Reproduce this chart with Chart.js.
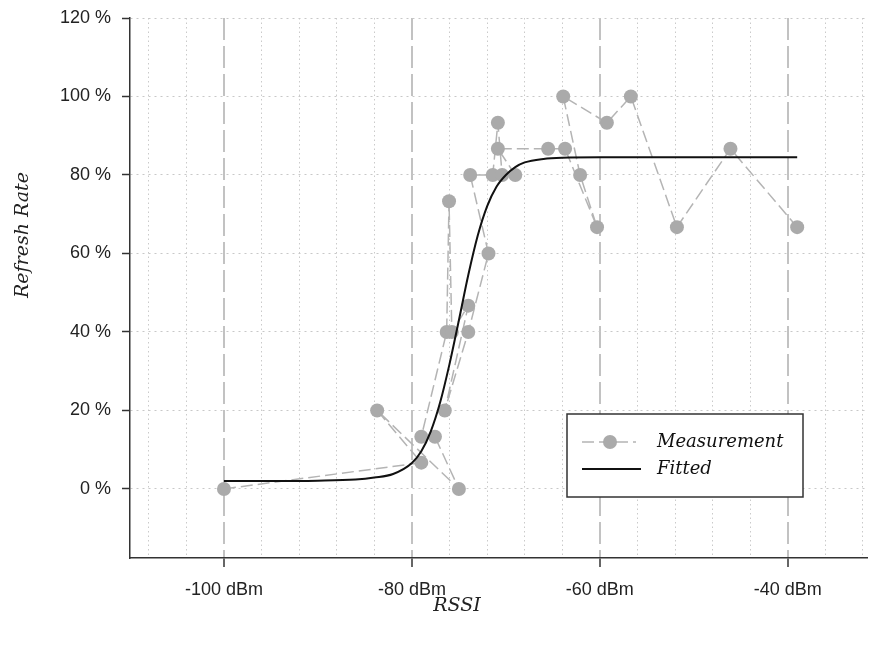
<!DOCTYPE html>
<html>
<head>
<meta charset="utf-8">
<script src="https://cdn.jsdelivr.net/npm/chart.js@4.4.0/dist/chart.umd.min.js"></script>
<style>
  html, body { margin: 0; padding: 0; background: #fff; }
  #wrap { width: 874px; height: 648px; }
</style>
</head>
<body>
<div id="wrap"><canvas id="rssiChart" width="874" height="648"></canvas></div>
<script>
// Measured refresh rate vs RSSI, in the order the points are joined
const measRssi = [-100, -79.0, -83.7, -75.0, -77.55, -79.0, -76.3, -76.05, -75.75, -74.0, -76.5, -74.0, -71.85, -73.8,
  -71.4, -70.85, -70.4, -69.0, -70.85, -65.5, -63.7, -60.3, -62.1, -63.9, -59.25, -56.7, -51.8, -46.1, -39.0];
const measRate = [0, 6.7, 20, 0, 13.3, 13.3, 40, 73.3, 40, 46.7, 20, 40, 60, 80,
  80, 93.3, 80, 80, 86.7, 86.7, 86.7, 66.7, 80, 100, 93.3, 100, 66.7, 86.7, 66.7];

// Fitted curve
const fitRssi = [-100, -95, -90, -86, -84, -82, -80, -79, -78, -77, -76, -75, -74, -73, -72, -71, -70, -69, -68, -66, -64, -60, -50, -39];
const fitRate = [2.0, 2.0, 2.1, 2.4, 2.9, 3.8, 6.6, 9.6, 14.6, 22.0, 31.8, 43.0, 54.5, 64.5, 72.0, 77.0, 80.0, 82.0, 83.2, 84.1, 84.4, 84.5, 84.5, 84.5];

// Tick labels and grid positions
const xLabelTicks = [-100, -80, -60, -40];
const xGridTicks = [-108, -104, -100, -96, -92, -88, -84, -80, -76, -72, -68, -64, -60, -56, -52, -48, -44, -40, -36, -32];
const yTicks = [0, 20, 40, 60, 80, 100, 120];

const isMajor = (ctx) => ctx.tick && xLabelTicks.includes(ctx.tick.value);

// Draws the axis titles and the boxed legend inside the plot
const extras = {
  id: 'extras',
  afterDraw(chart) {
    const ctx = chart.ctx;
    const ds = chart.data.datasets;
    ctx.save();
    ctx.fillStyle = '#222';
    ctx.font = 'italic 19px "DejaVu Serif"';
    ctx.textAlign = 'center';
    ctx.textBaseline = 'middle';
    ctx.fillText('RSSI', 457, 606);
    ctx.save();
    ctx.translate(23, 235);
    ctx.rotate(-Math.PI / 2);
    ctx.fillText('Refresh Rate', 0, 0);
    ctx.restore();

    // legend box
    const bx = 567, by = 414, bw = 236, bh = 83;
    ctx.fillStyle = '#fff';
    ctx.fillRect(bx, by, bw, bh);
    ctx.strokeStyle = '#333';
    ctx.lineWidth = 1.5;
    ctx.strokeRect(bx, by, bw, bh);

    ctx.font = 'italic 18px "DejaVu Serif"';
    ctx.textAlign = 'left';
    ds.forEach((d, i) => {
      const y = by + 28 + i * 27;
      ctx.save();
      ctx.strokeStyle = d.borderColor;
      ctx.lineWidth = d.borderWidth;
      ctx.setLineDash(d.borderDash || []);
      ctx.beginPath();
      ctx.moveTo(bx + 15, y);
      ctx.lineTo(bx + (d.pointRadius ? 69 : 74), y);
      ctx.stroke();
      if (d.pointRadius) {
        ctx.fillStyle = d.pointBackgroundColor;
        ctx.beginPath();
        ctx.arc(bx + 43, y, d.pointRadius, 0, Math.PI * 2);
        ctx.fill();
      }
      ctx.restore();
      ctx.fillStyle = '#111';
      ctx.fillText(d.label, bx + 90, y);
    });
    ctx.restore();
  }
};

const chart = new Chart(document.getElementById('rssiChart'), {
  type: 'line',
  data: {
    datasets: [{
      label: 'Measurement',
      data: measRssi.map((x, i) => ({ x: x, y: measRate[i] })),
      borderColor: '#b4b4b4',
      borderWidth: 1.5,
      borderDash: [12, 5],
      pointRadius: 7,
      pointHoverRadius: 7,
      pointBackgroundColor: '#aaaaaa',
      pointBorderWidth: 0,
      tension: 0,
      order: 2
    }, {
      label: 'Fitted',
      data: fitRssi.map((x, i) => ({ x: x, y: fitRate[i] })),
      borderColor: '#111',
      borderWidth: 2,
      pointRadius: 0,
      cubicInterpolationMode: 'monotone',
      order: 1
    }]
  },
  options: {
    responsive: false,
    animation: false,
    devicePixelRatio: 1,
    layout: { padding: { top: 18, right: 0, left: 0, bottom: 0 } },
    plugins: {
      legend: { display: false },
      tooltip: { enabled: false }
    },
    scales: {
      x: {
        type: 'linear',
        min: -110,
        max: -31.57,
        afterBuildTicks: (s) => { s.ticks = xGridTicks.map(v => ({ value: v })); },
        afterFit: (s) => { s.height = 90; s.paddingLeft = 0; s.paddingRight = 0; },
        ticks: {
          autoSkip: false,
          maxRotation: 0,
          padding: 12,
          color: '#222',
          font: { family: '"Liberation Sans", Arial', size: 18 },
          callback: (v) => xLabelTicks.includes(v) ? v + ' dBm' : ''
        },
        grid: {
          color: (ctx) => isMajor(ctx) ? '#c2c2c2' : '#cacaca',
          lineWidth: (ctx) => isMajor(ctx) ? 2 : 1,
          tickColor: (ctx) => isMajor(ctx) ? '#333' : 'rgba(0,0,0,0)',
          tickLength: 9,
          tickWidth: 1.5,
          tickBorderDash: []
        },
        border: {
          color: '#333',
          width: 1.5,
          dash: (ctx) => isMajor(ctx) ? [22, 6] : [1.5, 3]
        }
      },
      y: {
        type: 'linear',
        min: -17.6,
        max: 120,
        afterBuildTicks: (s) => { s.ticks = yTicks.map(v => ({ value: v })); },
        afterFit: (s) => { s.width = 130; s.paddingTop = 0; s.paddingBottom = 0; },
        ticks: {
          padding: 11,
          color: '#222',
          font: { family: '"Liberation Sans", Arial', size: 18 },
          callback: (v) => v + ' %'
        },
        grid: {
          color: '#c8c8c8',
          lineWidth: 1,
          tickColor: '#333',
          tickLength: 8,
          tickWidth: 1.5,
          tickBorderDash: []
        },
        border: {
          color: '#333',
          width: 1.5,
          dash: [2, 4]
        }
      }
    }
  },
  plugins: [extras]
});
</script>
</body>
</html>
